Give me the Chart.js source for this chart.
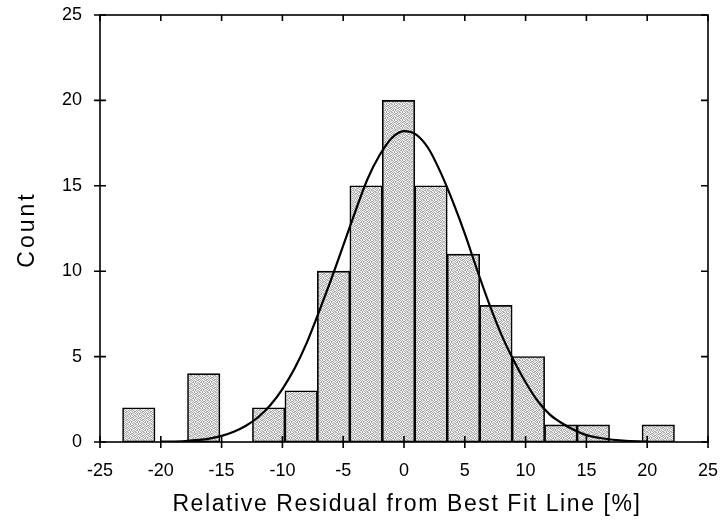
<!DOCTYPE html>
<html>
<head>
<meta charset="utf-8">
<script src="https://cdn.jsdelivr.net/npm/chart.js@4"></script>
<style>
    body { margin: 0; background: #fff; }
    #box { width: 721px; height: 526px; }
</style>
</head>
<body>
<div id="box"><canvas id="histChart"></canvas></div>
<script>
// histogram bins (centres, % residual) and counts
const binCenters = [-21.81, -16.47, -11.13, -8.46, -5.79, -3.12, -0.45, 2.22, 4.89, 7.56, 10.23, 12.90, 15.57, 20.91];
const counts = [2, 4, 2, 3, 10, 15, 20, 15, 11, 8, 5, 1, 1, 1];

// fitted normal curve
const curveX = [-20, -18, -16, -15, -14, -13, -12, -11, -10, -9, -8, -7, -6, -5, -4, -3, -2, -1, 0, 1, 2, 3, 4, 5, 6, 7, 8, 9, 10, 11, 12, 13, 14, 15, 16, 18, 20];
const curveY = [0.02, 0.06, 0.2, 0.36, 0.6, 0.95, 1.45, 2.15, 3.1, 4.3, 5.8, 7.6, 9.5, 11.5, 13.5, 15.4, 16.8, 17.8, 18.2, 18.0, 17.2, 15.8, 14.1, 12.2, 10.1, 8.1, 6.3, 4.8, 3.5, 2.4, 1.6, 1.1, 0.7, 0.4, 0.25, 0.08, 0.02];

const xTicks = [-25, -20, -15, -10, -5, 0, 5, 10, 15, 20, 25];
const yTicks = [0, 5, 10, 15, 20, 25];

const xTitle = "Relative Residual from Best Fit Line [%]";
const yTitle = "Count";

// stippled grey fill like the printed original (fixed dot mask, 8x8)
const dotMask = [
    "10100101",
    "01011010",
    "10110100",
    "01001011",
    "10100110",
    "01011001",
    "11010100",
    "00101011",
];
function stipple() {
    const c = document.createElement("canvas");
    c.width = 8;
    c.height = 8;
    const g = c.getContext("2d");
    g.fillStyle = "#ededed";
    g.fillRect(0, 0, 8, 8);
    g.fillStyle = "#b0b0b0";
    dotMask.forEach((row, y) => {
        for (let x = 0; x < 8; x++) {
            if (row[x] === "1") g.fillRect(x, y, 1, 1);
        }
    });
    return g.createPattern(c, "repeat");
}

const fontName = "'Liberation Sans', Arial, sans-serif";

// frame, in/out tick marks and spaced axis titles
const framePlugin = {
    id: "frame",
    afterDraw(chart) {
        const { ctx, chartArea: a } = chart;
        const xs = chart.scales.x;
        const ys = chart.scales.y;
        ctx.save();
        ctx.strokeStyle = "#000";
        ctx.lineWidth = 1.6;
        ctx.strokeRect(a.left, a.top, a.right - a.left, a.bottom - a.top);
        ctx.beginPath();
        xTicks.forEach(v => {
            const px = xs.getPixelForValue(v);
            ctx.moveTo(px, a.bottom - 6);
            ctx.lineTo(px, a.bottom + 6);
            ctx.moveTo(px, a.top);
            ctx.lineTo(px, a.top + 6);
        });
        yTicks.forEach(v => {
            const py = ys.getPixelForValue(v);
            ctx.moveTo(a.left - 6, py);
            ctx.lineTo(a.left + 6, py);
            ctx.moveTo(a.right - 7, py);
            ctx.lineTo(a.right, py);
        });
        ctx.stroke();

        ctx.fillStyle = "#000";
        ctx.textAlign = "center";
        ctx.textBaseline = "alphabetic";
        ctx.font = "23px " + fontName;
        ctx.letterSpacing = "1.6px";
        ctx.fillText(xTitle, (a.left + a.right) / 2 + 3, 511);

        ctx.letterSpacing = "3px";
        ctx.translate(34, (a.top + a.bottom) / 2 + 1);
        ctx.rotate(-Math.PI / 2);
        ctx.fillText(yTitle, 0, 0);
        ctx.restore();
    },
};

const ctx = document.querySelector("#histChart").getContext("2d");
const histChart = new Chart(ctx, {
    data: {
        datasets: [{
            type: "line",
            data: curveX.map((x, i) => ({ x: x, y: curveY[i] })),
            borderColor: "#000",
            borderWidth: 2.2,
            pointRadius: 0,
            cubicInterpolationMode: "monotone",
            order: 0,
        }, {
            type: "bar",
            data: binCenters.map((x, i) => ({ x: x, y: counts[i] })),
            backgroundColor: stipple(),
            borderColor: "#000",
            borderWidth: 1.6,
            borderSkipped: false,
            barPercentage: 1,
            categoryPercentage: 1,
            order: 1,
        }],
    },
    options: {
        responsive: true,
        maintainAspectRatio: false,
        animation: false,
        layout: {
            padding: { left: 0, top: 15, right: 13, bottom: 0 },
        },
        plugins: {
            legend: { display: false },
            tooltip: { enabled: false },
        },
        scales: {
            x: {
                type: "linear",
                min: -25,
                max: 25,
                offset: false,
                afterFit: scale => {
                    scale.height = 84;
                    scale.paddingLeft = 0;
                    scale.paddingRight = 0;
                },
                afterBuildTicks: scale => { scale.ticks = xTicks.map(v => ({ value: v })); },
                ticks: {
                    color: "#000",
                    padding: 18,
                    font: { family: fontName, size: 18 },
                },
                grid: { display: false, drawTicks: false },
                border: { display: false },
            },
            y: {
                min: 0,
                max: 25,
                afterFit: scale => {
                    scale.width = 100;
                    scale.paddingTop = 0;
                    scale.paddingBottom = 0;
                },
                afterBuildTicks: scale => { scale.ticks = yTicks.map(v => ({ value: v })); },
                ticks: {
                    color: "#000",
                    padding: 18,
                    font: { family: fontName, size: 18 },
                },
                grid: { display: false, drawTicks: false },
                border: { display: false },
            },
        },
    },
    plugins: [framePlugin],
});
</script>
</body>
</html>
